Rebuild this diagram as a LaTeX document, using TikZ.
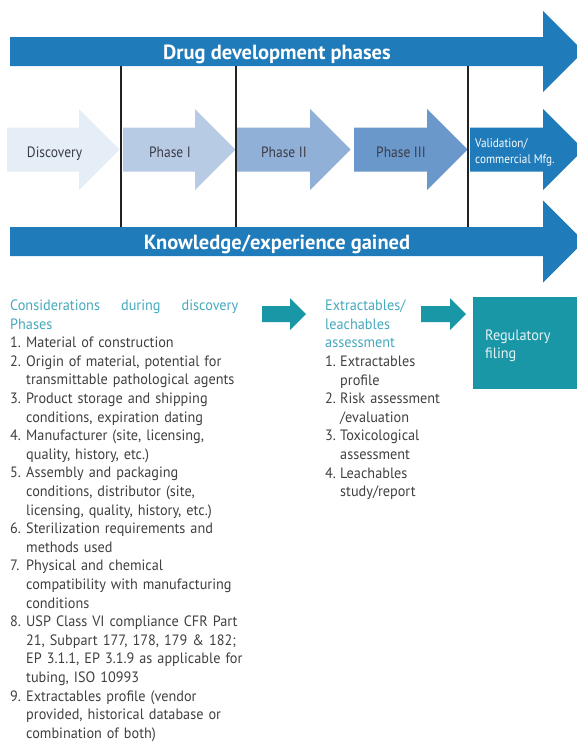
\documentclass[tikz,border=0pt]{standalone}
\usepackage{fontspec}
\setmainfont{PT Sans}
\newfontfamily\bodyfont[FakeStretch=0.95]{PT Sans}
\newfontfamily\titlefont{PT Sans}
\newfontfamily\labelfont[FakeStretch=0.9]{PT Sans}

\definecolor{barblue}{HTML}{1F7BBA}
\definecolor{discfill}{HTML}{E5EDF7}
\definecolor{phaseone}{HTML}{B8CBE5}
\definecolor{phasetwo}{HTML}{91B0D7}
\definecolor{phasethree}{HTML}{6A98CA}
\definecolor{tealfill}{HTML}{1A97A7}
\definecolor{headteal}{HTML}{45A9BC}
\definecolor{bodygray}{HTML}{404040}
\definecolor{labelgray}{HTML}{3C3C46}
\definecolor{divider}{HTML}{222222}
\definecolor{boxtext}{HTML}{E6F3F5}

% block arrow: #1 fill, #2 left x, #3 head base x, #4 body half height,
% #5 head half height, #6 centre y (45 degree head)
\newcommand{\blockarrow}[6]{%
  \fill[#1] (#2,#6-#4) -- (#3,#6-#4) -- (#3,#6-#5) -- ({#3+#5},#6)
    -- (#3,#6+#5) -- (#3,#6+#4) -- (#2,#6+#4) -- cycle;}
\newcommand{\num}[1]{\makebox[16pt][l]{#1}}
\newcommand{\numb}[1]{\makebox[15pt][l]{#1}}

\tikzset{
  titletext/.style={anchor=base, text=white, inner sep=0pt,
    font=\titlefont\bfseries\fontsize{20.5}{24}\selectfont},
  phaselabel/.style={anchor=base, text=labelgray, inner sep=0pt,
    font=\labelfont\fontsize{15}{18}\selectfont},
  columntext/.style={anchor=base west, inner sep=0pt, align=left,
    text=bodygray, font=\bodyfont\fontsize{15}{18.6}\selectfont},
  divline/.style={draw=divider, line width=1.6pt},
}

\begin{document}
\begin{tikzpicture}[x=1pt,y=-1pt]
\useasboundingbox (0,0) rectangle (577,742);
\clip (0,0) rectangle (577,742);

% timeline bars
\blockarrow{barblue}{10}{543}{14.5}{40.5}{51.5}
\blockarrow{barblue}{10}{543}{14.5}{41}{241.5}

% phase arrows
\blockarrow{discfill}{7}{79}{22}{40.5}{149.5}
\blockarrow{phaseone}{123}{195}{22}{40.5}{149.5}
\blockarrow{phasetwo}{237}{310}{22}{40.5}{149.5}
\blockarrow{phasethree}{354}{427}{22}{40.5}{149.5}
\blockarrow{barblue}{470}{543}{22}{40.5}{149.5}

% phase dividers
\coordinate (d1t) at (121,66);  \coordinate (d1b) at (121,227);
\coordinate (d2t) at (236,66);  \coordinate (d2b) at (236,227);
\coordinate (d3t) at (468,66);  \coordinate (d3b) at (468,227);
\draw[divline] (d1t) -- (d1b);
\draw[divline] (d2t) -- (d2b);
\draw[divline] (d3t) -- (d3b);

% bar titles
\node[titletext] (drugdev) at (277,59.3) {Drug development phases};
\node[titletext] (knowledge) at (277,249) {Knowledge/experience gained};

% phase labels
\node[phaselabel] (disc) at (54.5,157.3) {Discovery};
\node[phaselabel] (p1) at (170,157.3) {Phase I};
\node[phaselabel] (p2) at (284,157.3) {Phase II};
\node[phaselabel] (p3) at (401,157.3) {Phase III};
\node[anchor=base west, inner sep=0pt, align=left, text=white,
  font=\labelfont\fontsize{12.5}{15.6}\selectfont]
  (valid) at (475,163.3) {Validation/\\commercial Mfg.};

% flow arrows and regulatory box
\blockarrow{tealfill}{262}{290}{8}{16}{314}
\blockarrow{tealfill}{421}{450}{8}{16}{314}
\fill[tealfill] (473,297) rectangle (590,389);
\node[anchor=base west, inner sep=0pt, align=left, text=boxtext,
  font=\bodyfont\fontsize{15}{18.3}\selectfont]
  (reg) at (485,358.3) {Regulatory\\filing};

% considerations column
\node[columntext, text width=245pt] (consid) at (10,310.5) {%
\textcolor{headteal}{\makebox[228pt][l]{Considerations\hfill during\hfill discovery}}\\
\textcolor{headteal}{Phases}\\
\num{1.}Material of construction\\
\num{2.}Origin of material, potential for\\
\num{}transmittable pathological agents\\
\num{3.}Product storage and shipping\\
\num{}conditions, expiration dating\\
\num{4.}Manufacturer (site, licensing,\\
\num{}quality, history, etc.)\\
\num{5.}Assembly and packaging\\
\num{}conditions, distributor (site,\\
\num{}licensing, quality, history, etc.)\\
\num{6.}Sterilization requirements and\\
\num{}methods used\\
\num{7.}Physical and chemical\\
\num{}compatibility with manufacturing\\
\num{}conditions\\
\num{8.}USP Class VI compliance CFR Part\\
\num{}21, Subpart 177, 178, 179 \& 182;\\
\num{}EP 3.1.1, EP 3.1.9 as applicable for\\
\num{}tubing, ISO 10993\\
\num{9.}Extractables profile (vendor\\
\num{}provided, historical database or\\
\num{}combination of both)};

% extractables / leachables column
\node[columntext, text width=130pt] (extract) at (325,310.7) {%
\textcolor{headteal}{Extractables/}\\
\textcolor{headteal}{leachables}\\
\textcolor{headteal}{assessment}\\
\numb{1.}Extractables\\
\numb{}profile\\
\numb{2.}Risk assessment\\
\numb{}/evaluation\\
\numb{3.}Toxicological\\
\numb{}assessment\\
\numb{4.}Leachables\\
\numb{}study/report};
\end{tikzpicture}
\end{document}
